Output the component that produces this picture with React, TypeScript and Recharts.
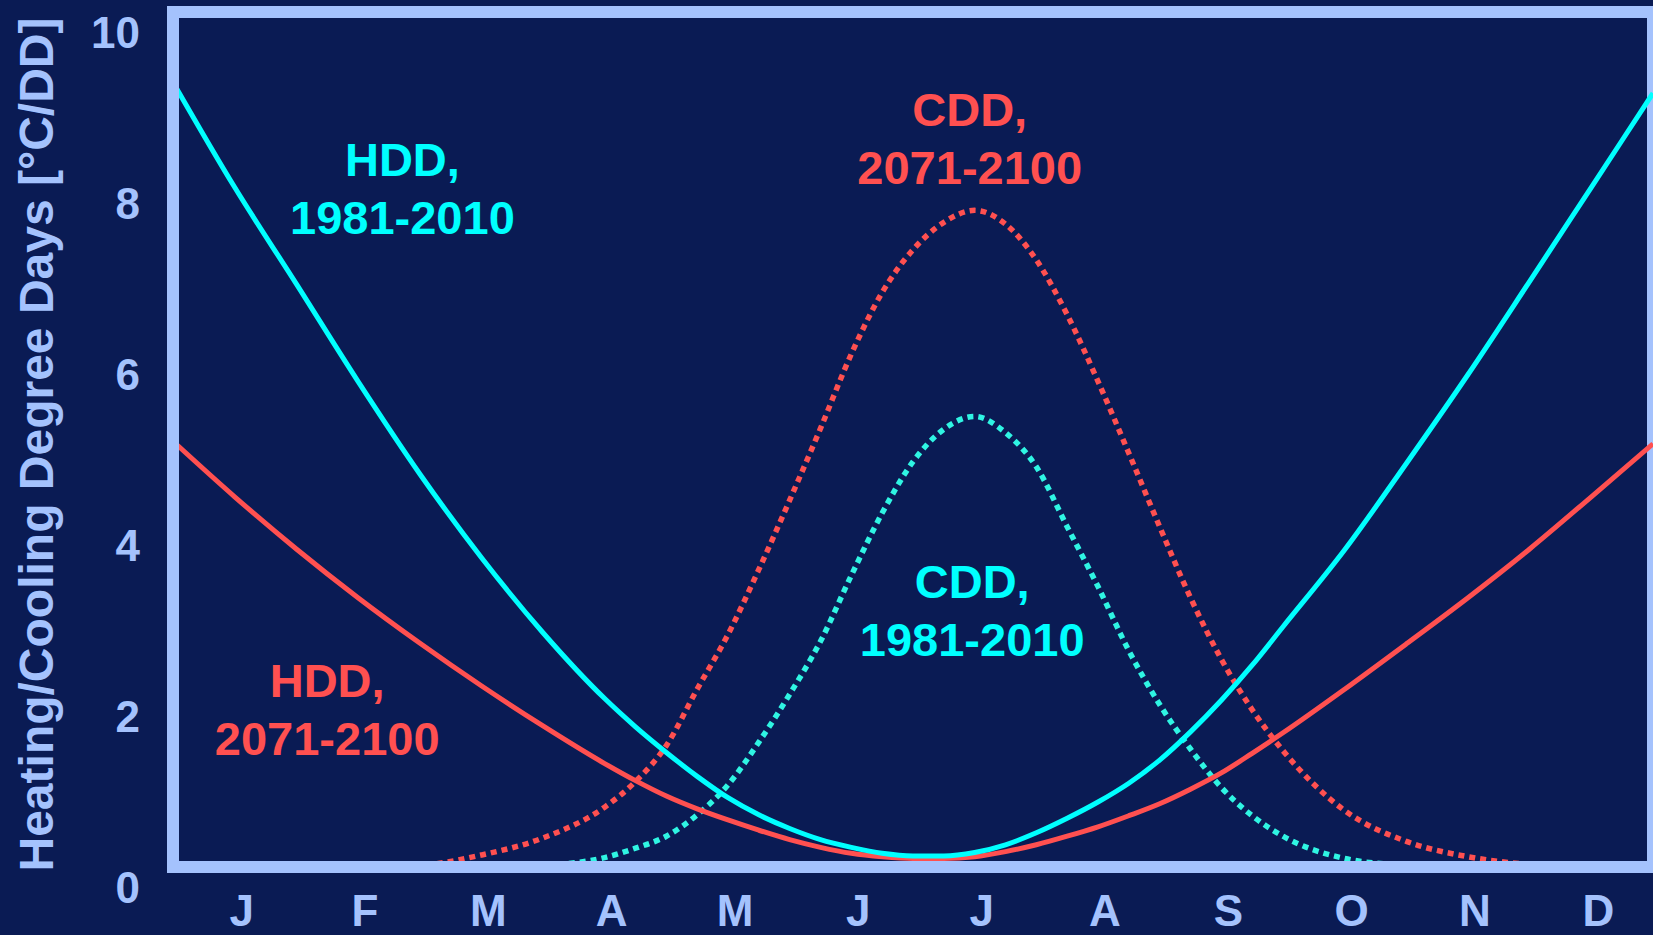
import React from 'react';
import { LineChart, Line, XAxis, YAxis, ReferenceDot, ReferenceArea } from 'recharts';

// x positions in months (0 = start of Jan, 12 = end of Dec)
const months = [
  0, 0.5, 1, 1.5, 2, 2.5, 3,
  3.5, 3.75, 4, 4.25, 4.5, 4.75, 5, 5.25, 5.5, 5.75, 6, 6.25, 6.5, 6.75,
  7, 7.25, 7.5, 7.75, 8, 8.25, 8.5, 8.75, 9,
  9.5, 10, 10.5, 11, 11.5, 12,
];

const hdd1981 = [
  9.18, 7.95, 6.82, 5.68, 4.6, 3.62, 2.74,
  1.97, 1.64, 1.34, 1.06, 0.81, 0.61, 0.45, 0.32, 0.23, 0.16, 0.13, 0.13, 0.17, 0.26,
  0.4, 0.57, 0.76, 0.98, 1.25, 1.58, 1.95, 2.36, 2.81,
  3.71, 4.72, 5.76, 6.85, 7.95, 9.05,
];

const hdd2071 = [
  4.98, 4.33, 3.72, 3.15, 2.62, 2.12, 1.65,
  1.21, 1.01, 0.83, 0.68, 0.55, 0.43, 0.32, 0.23, 0.16, 0.12, 0.1, 0.1, 0.12, 0.18,
  0.26, 0.36, 0.47, 0.6, 0.74, 0.91, 1.1, 1.33, 1.57,
  2.08, 2.61, 3.15, 3.72, 4.33, 4.95,
];

const cdd1981 = [
  0, 0, 0, 0, 0, 0, 0.02,
  0.11, 0.22, 0.36, 0.61, 0.96, 1.46, 2.02, 2.64, 3.41, 4.14, 4.74, 5.12, 5.27, 5.08,
  4.68, 3.98, 3.28, 2.53, 1.9, 1.38, 0.93, 0.6, 0.36,
  0.1, 0.02, 0, 0, 0, 0,
];

const cdd2071 = [
  0, 0, 0, 0, 0.02, 0.14, 0.34,
  0.7, 1.0, 1.42, 2.08, 2.72, 3.48, 4.29, 5.13, 6.0, 6.72, 7.22, 7.54, 7.68, 7.52,
  7.1, 6.46, 5.68, 4.84, 3.98, 3.15, 2.43, 1.84, 1.36,
  0.66, 0.3, 0.12, 0.03, 0, 0,
];

const monthTicks = [0.5, 1.5, 2.5, 3.5, 4.5, 5.5, 6.5, 7.5, 8.5, 9.5, 10.5, 11.5];
const monthLabels = ['J', 'F', 'M', 'A', 'M', 'J', 'J', 'A', 'S', 'O', 'N', 'D'];
const yTicks = [0, 2, 4, 6, 8, 10];

const BG = '#0a1b54';
const FRAME = '#a4c2fd';
const CYAN = '#00ffff';
const CYAN_DOT = '#2ff5e3';
const RED = '#ff5050';
const FONT = '"Liberation Sans", Arial, sans-serif';

// text blocks sitting next to each curve (block centre, in data units)
const annotations = [
  { x: 1.86, y: 7.94, lines: ['HDD,', '1981-2010'], color: CYAN },
  { x: 1.25, y: 1.85, lines: ['HDD,', '2071-2100'], color: RED },
  { x: 6.46, y: 8.53, lines: ['CDD,', '2071-2100'], color: RED },
  { x: 6.48, y: 3.01, lines: ['CDD,', '1981-2010'], color: CYAN },
];

const data = months.map((m, i) => ({
  m,
  hdd1981: hdd1981[i],
  hdd2071: hdd2071[i],
  cdd1981: cdd1981[i],
  cdd2071: cdd2071[i],
}));

function CurveLabel(props: any) {
  const vb = props.viewBox || {};
  const cx = (vb.x ?? vb.cx ?? 0) + (vb.width || 0) / 2;
  const cy = (vb.y ?? vb.cy ?? 0) + (vb.height || 0) / 2;
  return (
    <text
      textAnchor="middle"
      fill={props.color}
      fontSize={47}
      fontWeight="bold"
      fontFamily={FONT}
    >
      <tspan x={cx} y={cy - 12}>{props.lines[0]}</tspan>
      <tspan x={cx} y={cy + 46}>{props.lines[1]}</tspan>
    </text>
  );
}

function YTitle(props: any) {
  const vb = props.viewBox || {};
  const tx = (vb.x || 0) + 53;
  const ty = (vb.y || 0) + (vb.height || 0) / 2 + 5;
  return (
    <text
      x={tx}
      y={ty}
      transform={`rotate(-90, ${tx}, ${ty})`}
      textAnchor="middle"
      fill={FRAME}
      fontSize={48}
      fontWeight="bold"
      fontFamily={FONT}
    >
      Heating/Cooling Degree Days [°C/DD]
    </text>
  );
}

const frameLine = { stroke: FRAME, strokeWidth: 12, strokeLinecap: 'square' as const };

export default function App() {
  return (
    <div style={{ position: 'absolute', left: 0, top: 0, width: 1653, height: 935, background: BG, overflow: 'hidden' }}>
      <LineChart width={1653} height={935} data={data} margin={{ top: 12, right: 0, bottom: 0, left: 0 }}>
        {/* plot frame */}
        <ReferenceArea x1={0} x2={12} y1={0} y2={10} fill="none" stroke={FRAME} strokeWidth={12} fillOpacity={0} />

        <Line type="monotone" dataKey="cdd2071" stroke={RED} strokeWidth={5.5} strokeDasharray="6 5" dot={false} activeDot={false} isAnimationActive={false} />
        <Line type="monotone" dataKey="cdd1981" stroke={CYAN_DOT} strokeWidth={5.5} strokeDasharray="6 5" dot={false} activeDot={false} isAnimationActive={false} />
        <Line type="monotone" dataKey="hdd2071" stroke={RED} strokeWidth={5} dot={false} activeDot={false} isAnimationActive={false} />
        <Line type="monotone" dataKey="hdd1981" stroke={CYAN} strokeWidth={5} dot={false} activeDot={false} isAnimationActive={false} />

        <XAxis
          dataKey="m"
          type="number"
          domain={[0, 12]}
          ticks={monthTicks}
          interval={0}
          tickFormatter={(v: number) => monthLabels[Math.floor(v)]}
          tickLine={false}
          tickSize={0}
          tickMargin={28}
          height={68}
          axisLine={frameLine}
          tick={{ fill: FRAME, fontSize: 44, fontWeight: 'bold', fontFamily: FONT, dx: 7 }}
        />
        <YAxis
          type="number"
          domain={[0, 10]}
          ticks={yTicks}
          interval={0}
          width={173}
          tickLine={false}
          tickSize={0}
          tickMargin={33}
          axisLine={frameLine}
          tick={{ fill: FRAME, fontSize: 44, fontWeight: 'bold', fontFamily: FONT, dy: 20 }}
          label={<YTitle />}
        />

        {annotations.map((a, i) => (
          <ReferenceDot
            key={i}
            x={a.x}
            y={a.y}
            r={0}
            fill="none"
            stroke="none"
            label={<CurveLabel lines={a.lines} color={a.color} />}
          />
        ))}
      </LineChart>
    </div>
  );
}
